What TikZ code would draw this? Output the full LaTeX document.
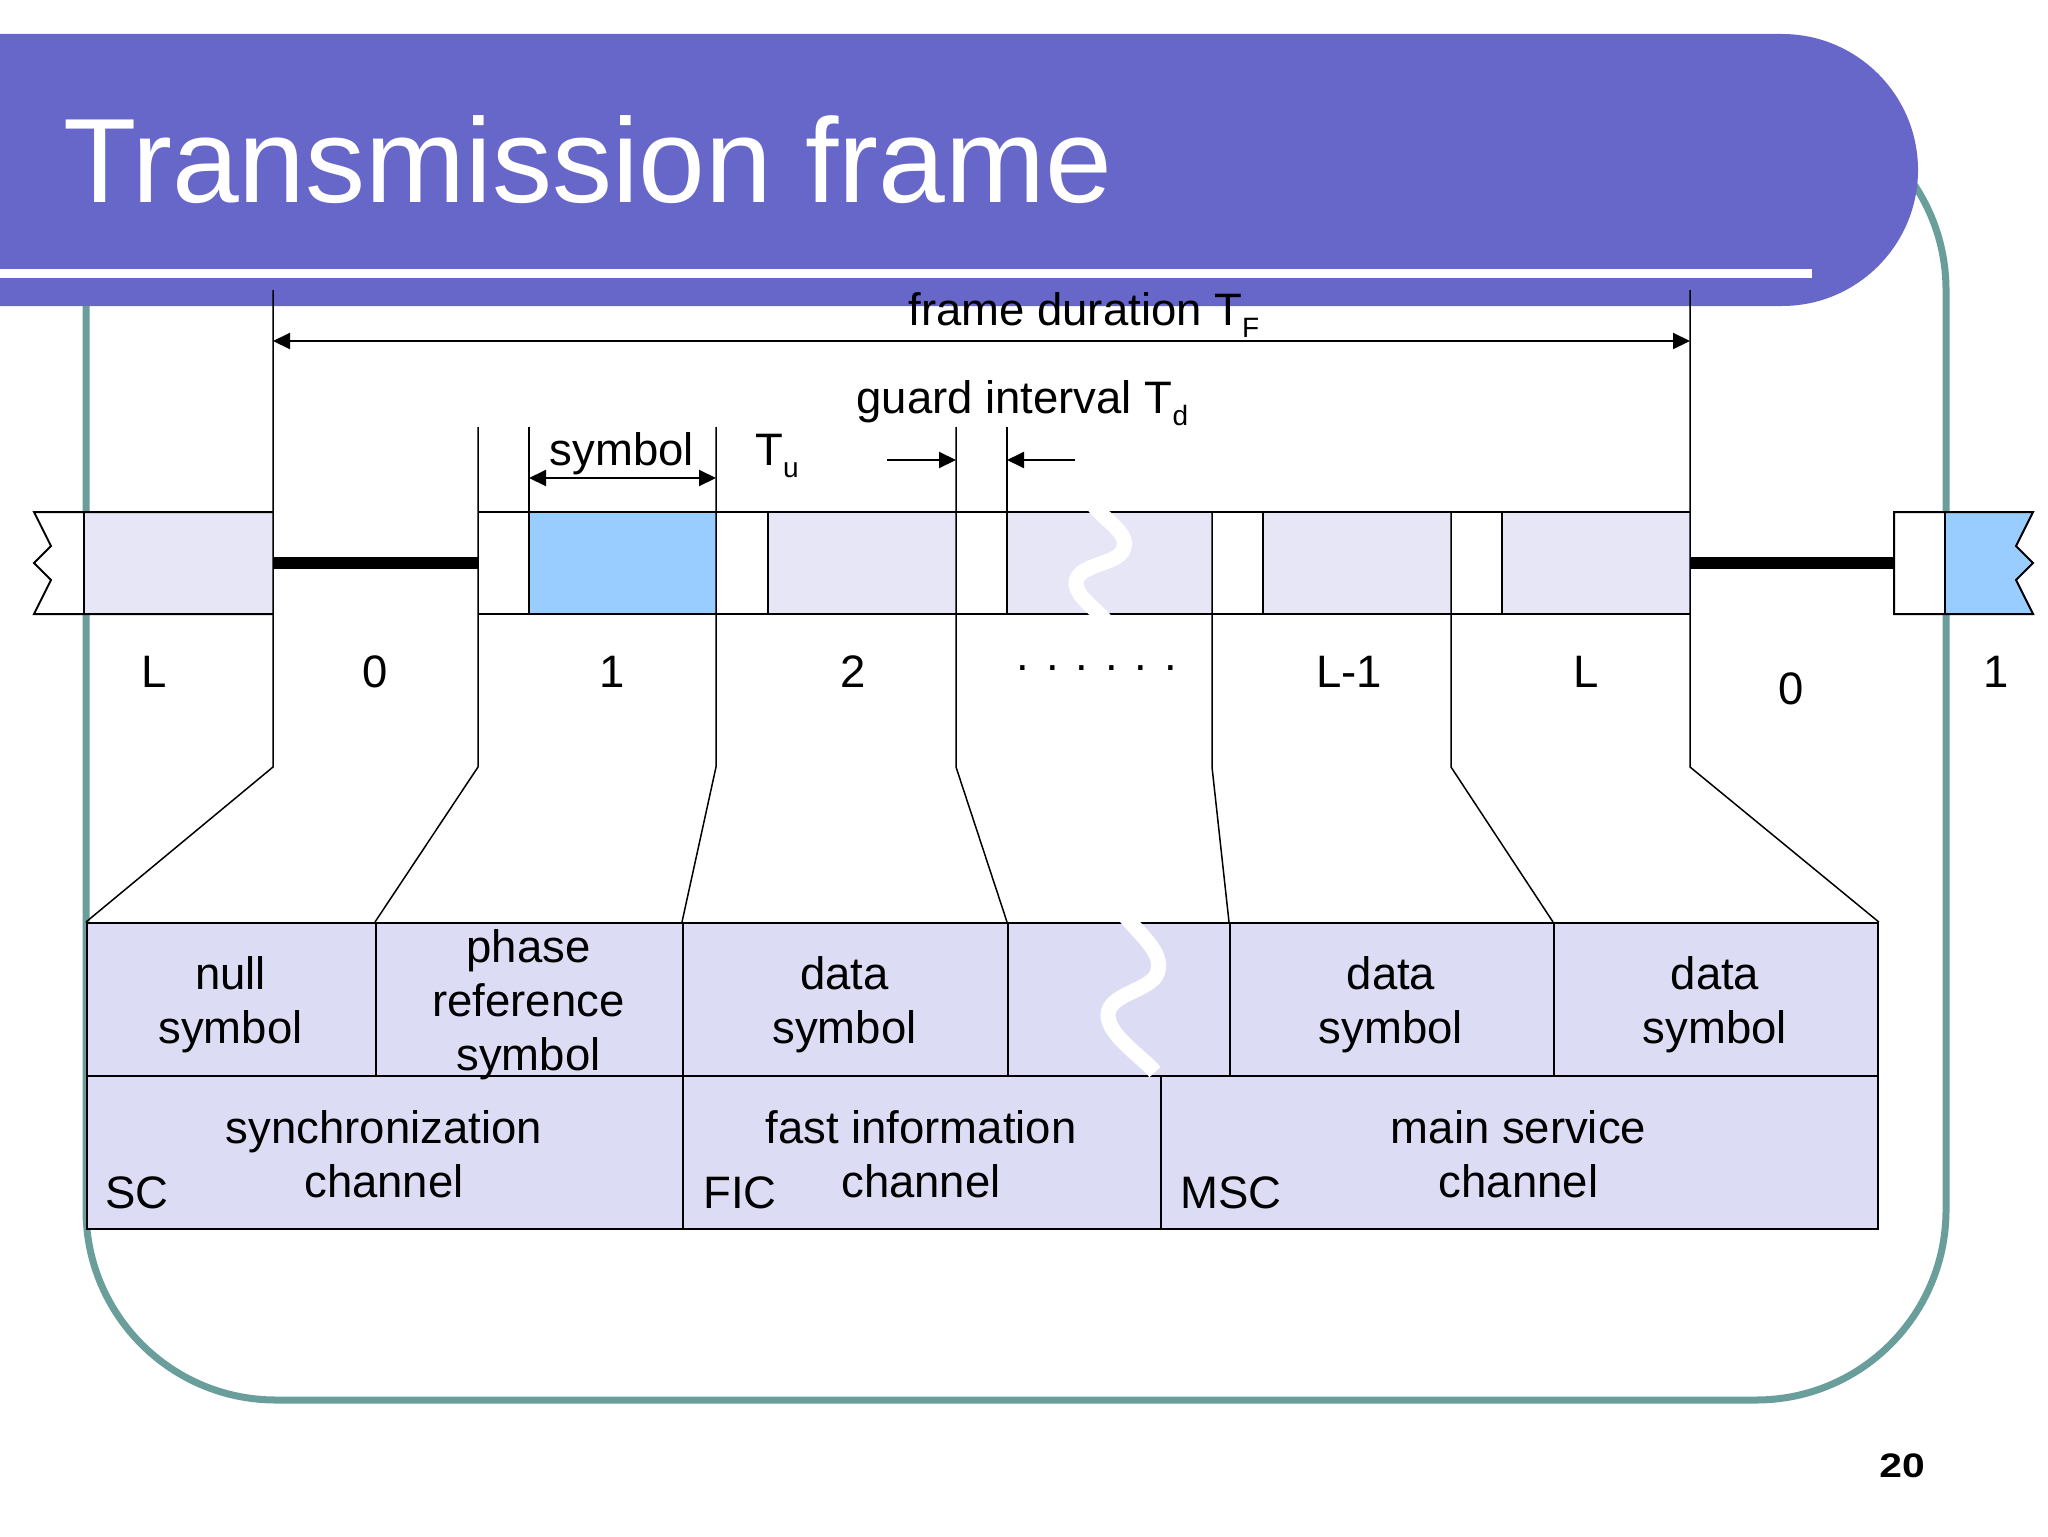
\documentclass[tikz,border=0pt]{standalone}
\usepackage{fontspec}
\setmainfont{Liberation Sans}
\usetikzlibrary{arrows.meta}
\definecolor{titleblue}{HTML}{6767C9}
\definecolor{frameteal}{HTML}{6A9E9A}
\definecolor{bandfill}{HTML}{E6E6F6}
\definecolor{boxfill}{HTML}{DCDCF5}
\definecolor{symblue}{HTML}{99CCFF}
\newcommand\lowsub[1]{\raisebox{-6pt}{\fontsize{14pt}{14pt}\selectfont #1}}
\tikzset{
  thinline/.style={line width=0.75pt},
  bandline/.style={line width=1pt},
  boxnode/.style={draw, line width=0.9pt, fill=boxfill, rectangle, inner sep=0pt, anchor=north west, minimum height=76.5pt},
  lbl/.style={font=\fontsize{22.75pt}{27pt}\selectfont, inner sep=0pt, align=center},
  dimarrow/.style={line width=1pt, <->},
  onearrow/.style={line width=1pt, ->},
  wave/.style={white, line width=7.5pt},
}
\begin{document}
\begin{tikzpicture}[x=0.5pt,y=-0.5pt,>={Triangle[length=8.5pt,width=8pt]}]
\useasboundingbox[fill=white] (0,0) rectangle (2048,1536);
% teal frame
\draw[frameteal, line width=3.5pt, rounded corners=95pt] (86,100) rectangle (1946,1400);
% title bar
\fill[titleblue] (0,34) -- (1782,34) .. controls (1857,34) and (1918,95) .. (1918,170)
  .. controls (1918,245) and (1857,306) .. (1782,306) -- (0,306) -- cycle;
\fill[white] (0,268.5) rectangle (1812,277.5);
\node[lbl, anchor=base west, text=white, font=\fontsize{60pt}{60pt}\selectfont] (title) at (63,202) {Transmission frame};

% band fills
\fill[white] (34,512) -- (84,512) -- (84,614) -- (34,614) -- (51,580) -- (34,563) -- (51,546) -- cycle;
\fill[bandfill] (84,512) rectangle (273,614);
\fill[white] (478,512) rectangle (529,614);
\fill[symblue] (529,512) rectangle (716,614);
\fill[white] (716,512) rectangle (768,614);
\fill[bandfill] (768,512) rectangle (956,614);
\fill[white] (956,512) rectangle (1007,614);
\fill[bandfill] (1007,512) rectangle (1212,614);
\fill[white] (1212,512) rectangle (1263,614);
\fill[bandfill] (1263,512) rectangle (1451,614);
\fill[white] (1451,512) rectangle (1502,614);
\fill[bandfill] (1502,512) rectangle (1690,614);
\fill[white] (1894,512) rectangle (1945,614);
\fill[symblue] (1945,512) -- (2033,512) -- (2016,546) -- (2033,563) -- (2016,580) -- (2033,614) -- (1945,614) -- cycle;
% null periods (thick lines)
\draw[line width=6pt] (273,563) -- (478,563);
\draw[line width=6pt] (1690,563) -- (1894,563);
% band outlines
\draw[bandline] (273,512) -- (34,512) -- (51,546) -- (34,563) -- (51,580) -- (34,614) -- (273,614);
\draw[bandline] (478,512) -- (1690,512) (478,614) -- (1690,614);
\draw[bandline] (1894,512) -- (2033,512) -- (2016,546) -- (2033,563) -- (2016,580) -- (2033,614) -- (1894,614) -- cycle;
\draw[thinline] (84,512) -- (84,614) (768,512) -- (768,614) (1263,512) -- (1263,614)
  (1502,512) -- (1502,614) (1945,512) -- (1945,614)
  (529,427) -- (529,614) (1007,427) -- (1007,614);

% lower boxes
\node[boxnode, minimum width=144.5pt] (bnull) at (86,922) {};
\node[boxnode, minimum width=153.5pt] (bphase) at (375,922) {};
\node[boxnode, minimum width=162.5pt] (bdata1) at (682,922) {};
\node[boxnode, minimum width=111pt] (bgap) at (1007,922) {};
\node[boxnode, minimum width=162pt] (bdata2) at (1229,922) {};
\node[boxnode, minimum width=162pt] (bdata3) at (1553,922) {};
\node[boxnode, minimum width=298pt] (bsc) at (86,1075) {};
\node[boxnode, minimum width=239pt] (bfic) at (682,1075) {};
\node[boxnode, minimum width=358.5pt] (bmsc) at (1160,1075) {};

% guide lines and connectors
\coordinate (t0) at (273,290);   \coordinate (k0) at (273,767);
\coordinate (t1) at (478,427);   \coordinate (k1) at (478,767);
\coordinate (t2) at (716,427);   \coordinate (k2) at (716,767);
\coordinate (t3) at (956,427);   \coordinate (k3) at (956,767);
\coordinate (t4) at (1212,512);  \coordinate (k4) at (1212,767);
\coordinate (t5) at (1451,512);  \coordinate (k5) at (1451,767);
\coordinate (t6) at (1690,290);  \coordinate (k6) at (1690,767);
\draw[thinline] (t0) -- (k0) -- (bnull.north west);
\draw[thinline] (t1) -- (k1) -- (bphase.north west);
\draw[thinline] (t2) -- (k2) -- (bdata1.north west);
\draw[thinline] (t3) -- (k3) -- (bgap.north west);
\draw[thinline] (t4) -- (k4) -- (bdata2.north west);
\draw[thinline] (t5) -- (k5) -- (bdata3.north west);
\draw[thinline] (t6) -- (k6) -- (bdata3.north east);

% dimension arrows
\coordinate (fdl) at (273,341); \coordinate (fdr) at (1690,341);
\draw[dimarrow] (fdl) -- (fdr);
\coordinate (syl) at (529,478); \coordinate (syr) at (716,478);
\draw[dimarrow] (syl) -- (syr);
\coordinate (gla) at (887,460); \coordinate (glb) at (956,460);
\coordinate (gra) at (1075,460); \coordinate (grb) at (1007,460);
\draw[onearrow] (gla) -- (glb);
\draw[onearrow] (gra) -- (grb);

% break marks
\draw[wave] (1093,505) .. controls (1110,525) and (1132,535) .. (1122,552)
  .. controls (1113,565) and (1075,565) .. (1076,584)
  .. controls (1077,597) and (1095,608) .. (1106,621);
\draw[wave] (1124,915) .. controls (1145,940) and (1166,955) .. (1156,976)
  .. controls (1146,991) and (1108,995) .. (1108,1015)
  .. controls (1108,1035) and (1140,1055) .. (1155,1072);

% labels
\node[lbl, anchor=base west] (tframe) at (908,325) {frame duration T\lowsub{F}};
\node[lbl, anchor=base west] (tguard) at (856,413) {guard interval T\lowsub{d}};
\node[lbl, anchor=base] (tsym) at (622,465) {symbol};
\node[lbl, anchor=base west] (ttu) at (755,465) {T\lowsub{u}};

\node[lbl, anchor=base] (nL1) at (154,687) {L};
\node[lbl, anchor=base] (n01) at (375,687) {0};
\node[lbl, anchor=base] (n1) at (612,687) {1};
\node[lbl, anchor=base] (n2) at (853,687) {2};
\node[lbl, anchor=base] (ndots) at (1097,670) {. . . . . .};
\node[lbl, anchor=base] (nLm) at (1349,687) {L-1};
\node[lbl, anchor=base] (nL2) at (1586,687) {L};
\node[lbl, anchor=base] (n02) at (1791,704) {0};
\node[lbl, anchor=base] (n12) at (1996,687) {1};

\node[lbl] (lnull) at (230.5,1005) {null\\symbol};
\node[lbl] (lphase) at (528.5,1005) {phase\\reference\\symbol};
\node[lbl] (ldata1) at (844.5,1005) {data\\symbol};
\node[lbl] (ldata2) at (1391,1005) {data\\symbol};
\node[lbl] (ldata3) at (1715,1005) {data\\symbol};
\node[lbl] (lsc) at (384,1154.5) {synchronization\\channel};
\node[lbl] (lfic) at (921,1154.5) {fast information\\channel};
\node[lbl] (lmsc) at (1518.5,1154.5) {main service\\channel};
\node[lbl, anchor=base west] (asc) at (105,1208) {SC};
\node[lbl, anchor=base west] (afic) at (703,1208) {FIC};
\node[lbl, anchor=base west] (amsc) at (1180,1208) {MSC};

\node[anchor=base, inner sep=0pt, font=\bfseries\fontsize{17pt}{17pt}\selectfont] (pgno) at (1902,1477) {\scalebox{1.2}[1]{20}};
\end{tikzpicture}
\end{document}
